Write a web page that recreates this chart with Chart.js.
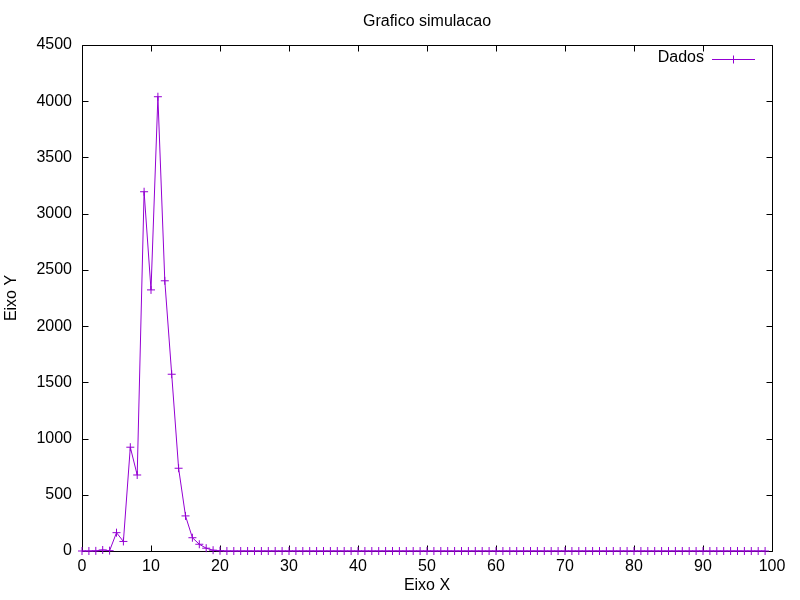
<!DOCTYPE html>
<html><head><meta charset="utf-8">
<script src="https://cdn.jsdelivr.net/npm/chart.js@4/dist/chart.umd.min.js"></script>
<style>html,body{margin:0;padding:0;background:#fff}#wrap{width:800px;height:600px}</style>
</head><body><div id="wrap"><canvas id="c" width="800" height="600"></canvas></div>
<script>
const xValues = [0,1,2,3,4,5,6,7,8,9,10,11,12,13,14,15,16,17,18,19,
  20,21,22,23,24,25,26,27,28,29,30,31,32,33,34,35,36,37,38,39,
  40,41,42,43,44,45,46,47,48,49,50,51,52,53,54,55,56,57,58,59,
  60,61,62,63,64,65,66,67,68,69,70,71,72,73,74,75,76,77,78,79,
  80,81,82,83,84,85,86,87,88,89,90,91,92,93,94,95,96,97,98,99];
const yValues = [0,0,1,9,3,163,85,923,676,3195,2322,4040,2403,1572,736,312,118,60,25,7,
  2,0,0,0,0,0,0,0,0,0,0,0,0,0,0,0,0,0,0,0,
  0,0,0,0,0,0,0,0,0,0,0,0,0,0,0,0,0,0,0,0,
  0,0,0,0,0,0,0,0,0,0,0,0,0,0,0,0,0,0,0,0,
  0,0,0,0,0,0,0,0,0,0,0,0,0,0,0,0,0,0,0,0];
const xTicks = [0,10,20,30,40,50,60,70,80,90,100];
const yTicks = [0,500,1000,1500,2000,2500,3000,3500,4000,4500];
const titleText = 'Grafico simulacao';
const xLabel = 'Eixo X';
const yLabel = 'Eixo Y';
const seriesName = 'Dados';

const FONT = '"Liberation Sans", Arial, sans-serif';
const FSIZE = 16;
const PURPLE = '#9400d3';

const points = xValues.map((x, i) => ({x: x, y: yValues[i]}));

const frame = {
  id: 'frame',
  beforeDatasetsDraw(chart) {
    const ctx = chart.ctx, a = chart.chartArea;
    const xs = chart.scales.x, ys = chart.scales.y;
    const L = Math.round(a.left) + 0.5, R = Math.round(a.right) + 0.5;
    const T = Math.round(a.top) + 0.5, B = Math.round(a.bottom) + 0.5;
    ctx.save();
    ctx.strokeStyle = '#000';
    ctx.lineWidth = 1;
    ctx.beginPath();
    ctx.rect(L, T, R - L, B - T);
    const tl = 6;
    xTicks.forEach(v => {
      const px = Math.round(xs.getPixelForValue(v)) + 0.5;
      ctx.moveTo(px, B); ctx.lineTo(px, B - tl);
      ctx.moveTo(px, T); ctx.lineTo(px, T + tl);
    });
    yTicks.forEach(v => {
      const py = Math.round(ys.getPixelForValue(v)) + 0.5;
      ctx.moveTo(L, py); ctx.lineTo(L + tl, py);
      ctx.moveTo(R, py); ctx.lineTo(R - tl, py);
    });
    ctx.stroke();
    ctx.restore();
  },
  afterDraw(chart) {
    const ctx = chart.ctx, a = chart.chartArea;
    ctx.save();
    ctx.fillStyle = '#000';
    ctx.font = FSIZE + 'px ' + FONT;
    ctx.textBaseline = 'middle';
    ctx.textAlign = 'center';
    const cx = (a.left + a.right) / 2;
    ctx.fillText(titleText, cx, 22);
    ctx.fillText(xLabel, cx, 586);
    ctx.save();
    ctx.translate(12, (a.top + a.bottom) / 2);
    ctx.rotate(-Math.PI / 2);
    ctx.fillText(yLabel, 0, 0);
    ctx.restore();
    // legend
    ctx.textAlign = 'right';
    ctx.fillText(seriesName, 704, 58);
    ctx.strokeStyle = PURPLE;
    ctx.lineWidth = 1;
    ctx.beginPath();
    ctx.moveTo(712, 59.5); ctx.lineTo(755, 59.5);
    ctx.moveTo(733.5, 55.5); ctx.lineTo(733.5, 63.5);
    ctx.stroke();
    ctx.restore();
  }
};

new Chart(document.getElementById('c'), {
  type: 'line',
  data: {
    datasets: [{
      label: seriesName,
      data: points,
      borderColor: PURPLE,
      backgroundColor: PURPLE,
      borderWidth: 1,
      pointStyle: 'cross',
      pointRadius: 4,
      pointBorderWidth: 1,
      pointBorderColor: PURPLE,
      tension: 0,
      fill: false,
      clip: false
    }]
  },
  options: {
    responsive: false,
    animation: false,
    devicePixelRatio: 1,
    layout: { padding: { left: 0, right: 28, top: 45, bottom: 0 } },
    plugins: { legend: { display: false }, title: { display: false }, tooltip: { enabled: false } },
    scales: {
      x: {
        type: 'linear', min: 0, max: 100,
        afterBuildTicks(s) { s.ticks = xTicks.map(v => ({value: v})); },
        afterFit(s) { s.height = 49; },
        grid: { display: false, drawTicks: false },
        border: { display: false },
        ticks: { autoSkip: false, maxRotation: 0, padding: 6, color: '#000',
                 callback: v => String(v),
                 font: { family: FONT, size: FSIZE } }
      },
      y: {
        type: 'linear', min: 0, max: 4500,
        afterBuildTicks(s) { s.ticks = yTicks.map(v => ({value: v})); },
        afterFit(s) { s.width = 82; },
        grid: { display: false, drawTicks: false },
        border: { display: false },
        ticks: { autoSkip: false, padding: 10, color: '#000',
                 callback: v => String(v),
                 font: { family: FONT, size: FSIZE } }
      }
    }
  },
  plugins: [frame]
});
</script>
</body></html>
